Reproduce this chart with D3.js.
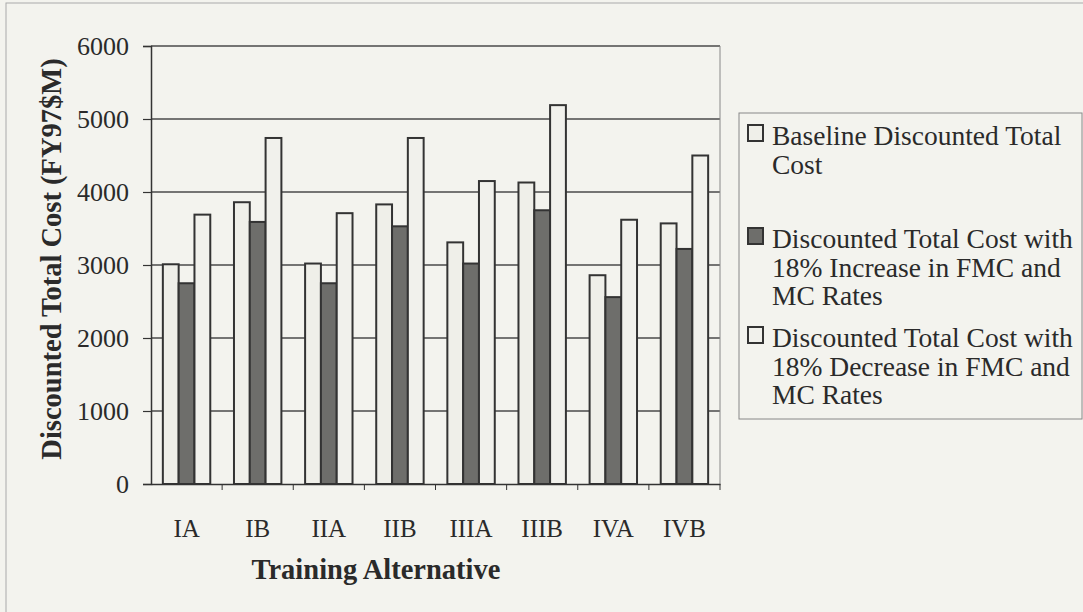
<!DOCTYPE html>
<html>
<head>
<meta charset="utf-8">
<script src="https://cdn.jsdelivr.net/npm/d3@7"></script>
<style>
  body { margin: 0; background: #f3f3ee; }
  svg text { font-family: "Liberation Serif", "Times New Roman", serif; fill: #2a2a2a; }
</style>
</head>
<body>
<svg width="1083" height="612"></svg>
<script>
(function (d3) {
  'use strict';

  // training alternatives on the x axis
  const categories = ['IA', 'IB', 'IIA', 'IIB', 'IIIA', 'IIIB', 'IVA', 'IVB'];

  // discounted total cost, FY97 $M
  const baseline = [3010, 3860, 3020, 3830, 3310, 4130, 2860, 3570];
  const increase18 = [2750, 3590, 2750, 3530, 3020, 3750, 2560, 3220];
  const decrease18 = [3690, 4740, 3710, 4740, 4150, 5190, 3620, 4500];

  const yTicks = [0, 1000, 2000, 3000, 4000, 5000, 6000];

  const seriesNames = [
    ['Baseline Discounted Total', 'Cost'],
    ['Discounted Total Cost with', '18% Increase in FMC and', 'MC Rates'],
    ['Discounted Total Cost with', '18% Decrease in FMC and', 'MC Rates']
  ];
  const seriesFill = ['#efefe9', '#6e6e6b', '#f1f1ec'];

  const svg = d3.select('svg');
  const ink = '#333';

  // outer chart frame (only top/left edges fall inside the photo)
  svg.append('rect')
    .attr('x', 6).attr('y', 3).attr('width', 1100).attr('height', 640)
    .attr('fill', 'none').attr('stroke', '#aaa').attr('stroke-width', 1);

  const plot = { left: 151, right: 720, top: 46, bottom: 484 };

  const x = d3.scaleBand().domain(categories).range([plot.left, plot.right]);
  const y = d3.scaleLinear().domain([0, 6000]).range([plot.bottom, plot.top]);

  const barW = x.bandwidth() / 4.5;
  const groupOff = (x.bandwidth() - 3 * barW) / 2;

  // gridlines
  svg.append('g').selectAll('line')
    .data(yTicks.filter(t => t > 0))
    .enter().append('line')
    .attr('x1', plot.left).attr('x2', plot.right)
    .attr('y1', d => y(d)).attr('y2', d => y(d))
    .attr('stroke', '#4a4a4a').attr('stroke-width', 1.3);

  // plot border right
  svg.append('line')
    .attr('x1', plot.right).attr('x2', plot.right)
    .attr('y1', plot.top).attr('y2', plot.bottom)
    .attr('stroke', '#888').attr('stroke-width', 1);

  // bars
  const allSeries = [baseline, increase18, decrease18];
  allSeries.forEach((vals, si) => {
    svg.append('g').selectAll('rect')
      .data(vals)
      .enter().append('rect')
      .attr('x', (d, i) => x(categories[i]) + groupOff + si * barW)
      .attr('y', d => y(d))
      .attr('width', barW)
      .attr('height', d => y(0) - y(d))
      .attr('fill', seriesFill[si])
      .attr('stroke', ink)
      .attr('stroke-width', 2);
  });

  // y axis
  const yAxis = svg.append('g')
    .attr('transform', `translate(${plot.left},0)`)
    .call(d3.axisLeft(y).tickValues(yTicks).tickSize(8).tickPadding(14).tickFormat(d3.format('d')));
  yAxis.select('.domain').attr('stroke', ink).attr('stroke-width', 1.5);
  yAxis.selectAll('.tick line').attr('stroke', ink).attr('stroke-width', 1.2);
  yAxis.selectAll('.tick text')
    .attr('font-size', 26).attr('font-family', '"Liberation Serif", serif').attr('fill', '#2a2a2a');

  // x axis
  const xAxis = svg.append('g')
    .attr('transform', `translate(0,${plot.bottom})`)
    .call(d3.axisBottom(x).tickSize(0).tickPadding(35));
  xAxis.select('.domain').attr('stroke', ink).attr('stroke-width', 1.5);
  xAxis.selectAll('.tick text')
    .attr('font-size', 25).attr('font-family', '"Liberation Serif", serif').attr('fill', '#2a2a2a');

  // x ticks between categories
  svg.append('g').selectAll('line')
    .data(categories.slice(1).concat([null]))
    .enter().append('line')
    .attr('x1', (d, i) => x(categories[i]) + x.bandwidth())
    .attr('x2', (d, i) => x(categories[i]) + x.bandwidth())
    .attr('y1', plot.bottom).attr('y2', plot.bottom + 6)
    .attr('stroke', ink).attr('stroke-width', 1);

  // axis titles
  svg.append('text')
    .attr('x', 376).attr('y', 579)
    .attr('text-anchor', 'middle')
    .attr('font-size', 28.5).attr('font-weight', 'bold')
    .text('Training Alternative');

  svg.append('text')
    .attr('transform', 'translate(61,259) rotate(-90)')
    .attr('text-anchor', 'middle')
    .attr('font-size', 28.5).attr('font-weight', 'bold')
    .text('Discounted Total Cost (FY97$M)');

  // legend
  const legend = svg.append('g');
  legend.append('rect')
    .attr('x', 739).attr('y', 113).attr('width', 343).attr('height', 306)
    .attr('fill', 'none').attr('stroke', '#888').attr('stroke-width', 1);

  const entryY = [145, 248, 347];
  const lineH = 28.5;
  seriesNames.forEach((lines, si) => {
    const g = legend.append('g');
    g.append('rect')
      .attr('x', 748).attr('y', entryY[si] - 20)
      .attr('width', 15).attr('height', 16)
      .attr('fill', seriesFill[si]).attr('stroke', ink).attr('stroke-width', 2);
    g.selectAll('text')
      .data(lines)
      .enter().append('text')
      .attr('x', 772)
      .attr('y', (d, i) => entryY[si] + i * lineH)
      .attr('font-size', 27.5)
      .text(d => d);
  });

}(d3));
</script>
</body>
</html>
